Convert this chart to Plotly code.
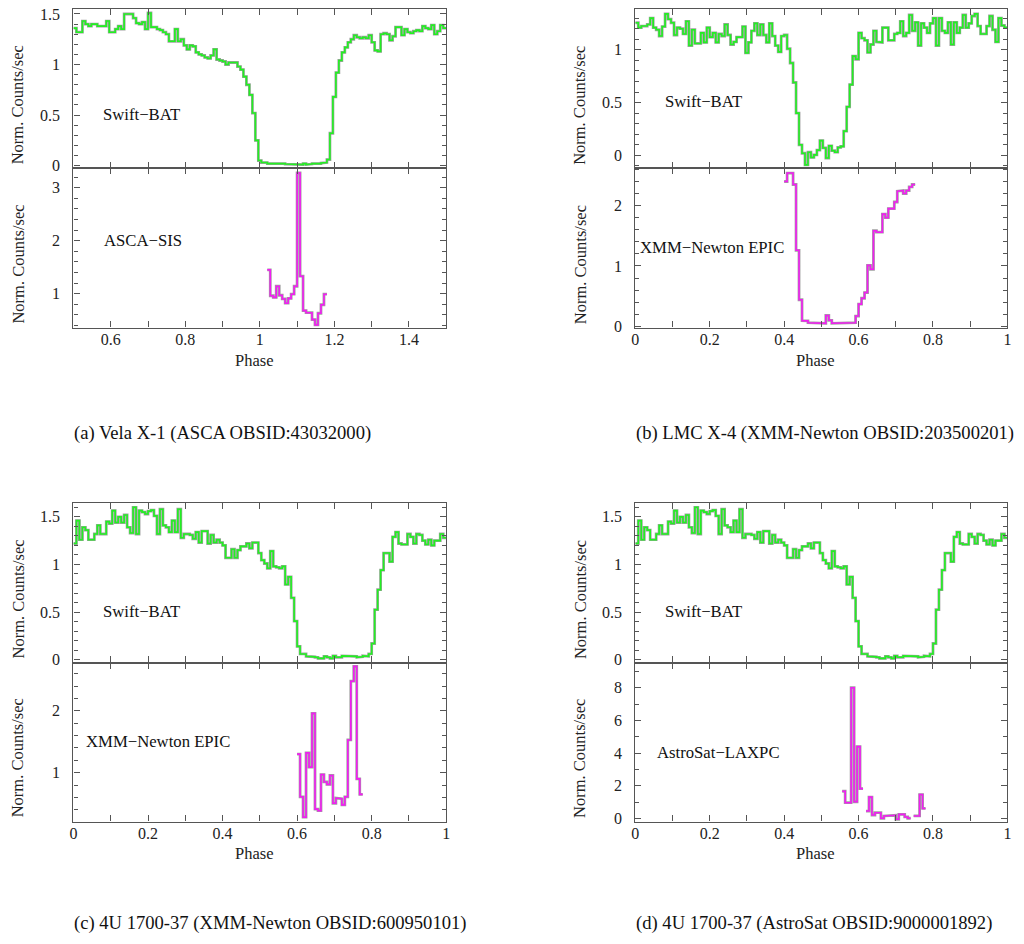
import plotly.graph_objects as go

# ------------------------------------------------------------------ data
bin_width = 0.008

vela_bat_start = 0.5
vela_bat = [1.36, 1.32, 1.32, 1.43, 1.40, 1.38, 1.40, 1.40, 1.38, 1.38,
            1.38, 1.43, 1.32, 1.32, 1.35, 1.38, 1.35, 1.50, 1.50, 1.50,
            1.46, 1.41, 1.40, 1.42, 1.35, 1.51, 1.37, 1.37, 1.35, 1.34,
            1.32, 1.30, 1.23, 1.23, 1.35, 1.23, 1.25, 1.19, 1.15, 1.19,
            1.18, 1.12, 1.10, 1.09, 1.07, 1.06, 1.09, 1.15, 1.05, 1.04,
            1.03, 1.00, 1.02, 1.02, 1.02, 0.98, 0.95, 0.88, 0.80, 0.70,
            0.52, 0.25, 0.05, 0.03, 0.03, 0.02, 0.025, 0.02, 0.02, 0.025,
            0.02, 0.015, 0.01, 0.01, 0.015, 0.01, 0.01, 0.02, 0.01, 0.015,
            0.02, 0.015, 0.02, 0.025, 0.03, 0.06, 0.32, 0.68, 0.92, 1.04,
            1.12, 1.17, 1.22, 1.25, 1.29, 1.27, 1.26, 1.27, 1.26, 1.29,
            1.22, 1.14, 1.13, 1.30, 1.31, 1.30, 1.24, 1.28, 1.37, 1.37,
            1.29, 1.35, 1.32, 1.31, 1.33, 1.34, 1.33, 1.38, 1.36, 1.35,
            1.39, 1.30, 1.33, 1.39, 1.36]

vela_asca_start = 1.020
vela_asca = [1.45, 0.96, 0.93, 1.14, 0.97, 0.90, 0.82, 0.91, 0.99, 1.14,
             3.28, 1.33, 0.68, 0.64, 0.64, 0.51, 0.41, 0.63, 0.79, 0.99]

lmc_bat_start = 0.0
lmc_bat = [1.256, 1.21, 1.225, 1.225, 1.24, 1.30, 1.21, 1.19, 1.13, 1.22,
           1.34, 1.29, 1.256, 1.14, 1.21, 1.20, 1.15, 1.27, 1.04, 1.19,
           1.06, 1.06, 1.16, 1.07, 1.21, 1.12, 1.16, 1.07, 1.15, 1.13,
           1.24, 1.14, 1.05, 1.075, 1.12, 1.12, 1.22, 0.97, 1.07, 1.18,
           1.25, 1.14, 1.24, 1.14, 1.07, 1.25, 1.13, 1.04, 0.98, 1.13,
           1.14, 1.01, 0.875, 0.69, 0.40, 0.10, 0.02, -0.09, 0.03, -0.02,
           0.005, 0.05, 0.14, 0.07, -0.025, 0.09, 0.044, 0.03, 0.075, 0.085,
           0.23, 0.46, 0.67, 0.94, 0.91, 1.16, 1.11, 1.09, 0.975, 1.05,
           1.18, 1.075, 1.07, 1.21, 1.21, 1.09, 1.09, 1.15, 1.16, 1.27,
           1.13, 1.16, 1.33, 1.18, 1.26, 1.04, 1.25, 1.21, 1.16, 1.25,
           1.30, 1.04, 1.30, 1.18, 1.16, 1.26, 1.05, 1.26, 1.16, 1.21,
           1.33, 1.21, 1.25, 1.32, 1.34, 1.225, 1.15, 1.15, 1.225, 1.32,
           1.19, 1.075, 1.30, 1.23, 1.21]

lmc_epic_start = 0.400
lmc_epic = [2.40, 2.54, 2.54, 2.35, 1.26, 0.44, 0.093, 0.09, 0.06, 0.06,
            0.05, 0.05, 0.05, 0.05, 0.18, 0.10, 0.05, 0.05, 0.05, 0.05,
            0.055, 0.055, 0.055, 0.06, 0.17, 0.367, 0.465, 0.56, 1.01, 0.945,
            1.585, 1.56, 1.56, 1.86, 1.80, 1.95, 1.95, 2.06, 2.24, 2.25,
            2.20, 2.25, 2.31, 2.35]

u1700_bat_start = 0.0
u1700_bat = [1.22, 1.46, 1.26, 1.39, 1.36, 1.26, 1.26, 1.32, 1.41, 1.32,
             1.32, 1.45, 1.43, 1.565, 1.44, 1.50, 1.44, 1.52, 1.39, 1.33,
             1.60, 1.32, 1.565, 1.55, 1.53, 1.56, 1.57, 1.51, 1.32, 1.58,
             1.41, 1.39, 1.34, 1.46, 1.34, 1.58, 1.28, 1.32, 1.32, 1.31,
             1.27, 1.34, 1.23, 1.35, 1.35, 1.22, 1.31, 1.23, 1.26, 1.23,
             1.20, 1.07, 1.07, 1.16, 1.07, 1.15, 1.19, 1.19, 1.22, 1.17,
             1.23, 1.23, 1.12, 1.045, 1.01, 0.96, 1.14, 0.98, 0.97, 0.96,
             0.98, 0.79, 0.87, 0.65, 0.405, 0.14, 0.06, 0.06, 0.035, 0.035,
             0.03, 0.025, 0.014, 0.014, 0.035, 0.025, 0.014, 0.04, 0.025, 0.025,
             0.04, 0.04, 0.04, 0.04, 0.035, 0.025, 0.03, 0.04, 0.035, 0.06,
             0.17, 0.525, 0.735, 0.94, 1.12, 1.12, 1.03, 1.29, 1.34, 1.22,
             1.21, 1.21, 1.32, 1.29, 1.22, 1.32, 1.31, 1.25, 1.21, 1.26,
             1.20, 1.25, 1.25, 1.32, 1.28]

u1700_epic_start = 0.600
u1700_epic = [1.30, 0.61, 0.28, 1.32, 1.09, 1.96, 0.41, 0.385, 0.97, 0.85,
              0.81, 0.955, 0.505, 0.59, 0.58, 0.48, 0.61, 1.53, 2.48, 2.72,
              0.90, 0.65]

u1700_laxpc_start = 0.556
u1700_laxpc = [1.67, 0.97, 0.97, 8.0, 1.03, 4.40, 1.83, None, 0.46, 1.31,
               0.22, 0.36, 0.36, 0.02, 0.16, 0.16, 0.20, 0.20, -0.04, 0.26,
               0.26, 0.10, 0.02, None, 0.16, 0.16, 1.47, 0.62]

top_label = "Swift\u2212BAT"
bottom_labels = ["ASCA\u2212SIS", "XMM\u2212Newton EPIC", "XMM\u2212Newton EPIC",
                 "AstroSat\u2212LAXPC"]
captions = ["(a) Vela X-1 (ASCA OBSID:43032000)",
            "(b) LMC X-4 (XMM-Newton OBSID:203500201)",
            "(c) 4U 1700-37 (XMM-Newton OBSID:600950101)",
            "(d) 4U 1700-37 (AstroSat OBSID:9000001892)"]
y_title = "Norm. Counts/sec"
x_title = "Phase"

top_series = [(vela_bat_start, vela_bat), (lmc_bat_start, lmc_bat),
              (u1700_bat_start, u1700_bat), (u1700_bat_start, u1700_bat)]
bottom_series = [(vela_asca_start, vela_asca), (lmc_epic_start, lmc_epic),
                 (u1700_epic_start, u1700_epic), (u1700_laxpc_start, u1700_laxpc)]

# ------------------------------------------------------------------ layout
W, H = 1024, 944
FONT = "Liberation Serif, Times New Roman, serif"
GREEN = "#22f022"
MAGENTA = "#f21ef2"
HALO = "#a0a0a0"
AX = "#555555"


def px_x(v):
    return v / W


def px_y(v):
    return 1 - v / H


panels = [
    dict(x0=70, x1=445.7, yt=6, ym=167, yb=328, xr=[0.5, 1.5],
         tr=[-0.026, 1.55], br=[0.36, 3.37], bd=1, bm=0.2,
         ytl=14.5, tl=(98, 113), bl=(99, 240), ph=(252.5, 361), cap=(69, 435),
         ytc=(103, 264)),
    dict(x0=636.3, x1=1011.3, yt=6, ym=167, yb=328, xr=[0, 1],
         tr=[-0.122, 1.387], br=[-0.02, 2.62], bd=1, bm=0.2,
         ytl=580.5, tl=(664, 100), bl=(639, 247), ph=(818, 361), cap=(635, 435),
         ytc=(103, 264)),
    dict(x0=70, x1=445.7, yt=505, ym=666.7, yb=827.3, xr=[0, 1],
         tr=[-0.031, 1.649], br=[0.21, 2.78], bd=1, bm=0.2,
         ytl=14.5, tl=(98, 615), bl=(81, 746), ph=(252.5, 860), cap=(69, 930),
         ytc=(602.5, 763)),
    dict(x0=636.3, x1=1011.3, yt=505, ym=666.7, yb=827.3, xr=[0, 1],
         tr=[-0.031, 1.649], br=[-0.18, 9.53], bd=2, bm=1,
         ytl=580.5, tl=(664, 615), bl=(656, 758), ph=(818, 860), cap=(635, 930),
         ytc=(602.5, 763)),
]


def step_xy(start, width, vals):
    xs, ys = [], []
    for i, v in enumerate(vals):
        if v is None:
            xs.append(None)
            ys.append(None)
            continue
        left = start + i * width
        xs += [left, left + width]
        ys += [v, v]
    return xs, ys


fig = go.Figure()
layout = {}
annotations = []

tickfont = dict(family=FONT, size=16, color="#222")


def axis_common():
    return dict(showline=True, linecolor=AX, linewidth=1.3, mirror="allticks",
                ticks="inside", ticklen=6, tickwidth=1.2, tickcolor=AX,
                showgrid=False, zeroline=False, tickfont=tickfont)


for p_i, p in enumerate(panels):
    xt, yt_ = 2 * p_i + 1, 2 * p_i + 1
    xb, yb_ = 2 * p_i + 2, 2 * p_i + 2
    xdom = [px_x(p["x0"]), px_x(p["x1"])]

    for sub, (xa, ya, series, color, yr, dt, mn, ydom) in enumerate([
        (xt, yt_, top_series[p_i], GREEN, p["tr"], 0.5, 0.1,
         [px_y(p["ym"]), px_y(p["yt"])]),
        (xb, yb_, bottom_series[p_i], MAGENTA, p["br"], p["bd"], p["bm"],
         [px_y(p["yb"]), px_y(p["ym"])]),
    ]):
        xs, ys = step_xy(series[0], bin_width, series[1])
        xref = "x" if xa == 1 else f"x{xa}"
        yref = "y" if ya == 1 else f"y{ya}"
        fig.add_trace(go.Scatter(x=xs, y=ys, mode="lines", xaxis=xref, yaxis=yref,
                                 line=dict(color=HALO, width=2.8), hoverinfo="skip",
                                 showlegend=False))
        fig.add_trace(go.Scatter(x=xs, y=ys, mode="lines", xaxis=xref, yaxis=yref,
                                 line=dict(color=color, width=1.6), hoverinfo="skip",
                                 showlegend=False))
        xkey = "xaxis" if xa == 1 else f"xaxis{xa}"
        ykey = "yaxis" if ya == 1 else f"yaxis{ya}"
        xd = axis_common()
        xd.update(domain=xdom, range=p["xr"], anchor=yref, dtick=0.2, tick0=0,
                  showticklabels=(sub == 1), ticklabelstandoff=-3,
                  minor=dict(dtick=0.1, tick0=0, ticks="inside", ticklen=6,
                             tickwidth=1.2, tickcolor=AX, showgrid=False))
        yd = axis_common()
        yd.update(domain=ydom, range=yr, anchor=xref, dtick=dt, tick0=0,
                  ticklabelstandoff=9,
                  minor=dict(dtick=mn, tick0=0, ticks="inside", ticklen=4,
                             tickwidth=1.2, tickcolor=AX, showgrid=False))
        layout[xkey] = xd
        layout[ykey] = yd

    # y titles
    for yc in p["ytc"]:
        annotations.append(dict(text=y_title, x=px_x(p["ytl"]), y=px_y(yc),
                                xref="paper", yref="paper", showarrow=False,
                                textangle=-90, xanchor="center", yanchor="middle",
                                font=dict(family=FONT, size=16.5, color="#222")))
    # inner labels
    annotations.append(dict(text=top_label, x=px_x(p["tl"][0]), y=px_y(p["tl"][1]),
                            xref="paper", yref="paper", showarrow=False,
                            xanchor="left", yanchor="middle",
                            font=dict(family=FONT, size=16.7, color="#111")))
    annotations.append(dict(text=bottom_labels[p_i], x=px_x(p["bl"][0]),
                            y=px_y(p["bl"][1]), xref="paper", yref="paper",
                            showarrow=False, xanchor="left", yanchor="middle",
                            font=dict(family=FONT, size=16.7, color="#111")))
    annotations.append(dict(text=x_title, x=px_x(p["ph"][0]), y=px_y(p["ph"][1]),
                            xref="paper", yref="paper", showarrow=False,
                            xanchor="center", yanchor="middle",
                            font=dict(family=FONT, size=16.5, color="#222")))
    annotations.append(dict(text=captions[p_i], x=px_x(p["cap"][0]),
                            y=px_y(p["cap"][1]), xref="paper", yref="paper",
                            showarrow=False, xanchor="left", yanchor="middle",
                            font=dict(family=FONT, size=18.6, color="#111")))

fig.update_layout(width=W, height=H, margin=dict(l=0, r=0, t=0, b=0),
                  paper_bgcolor="white", plot_bgcolor="white",
                  annotations=annotations, showlegend=False, **layout)

fig.write_html("out.html", include_plotlyjs=True,
               config=dict(displayModeBar=False))
